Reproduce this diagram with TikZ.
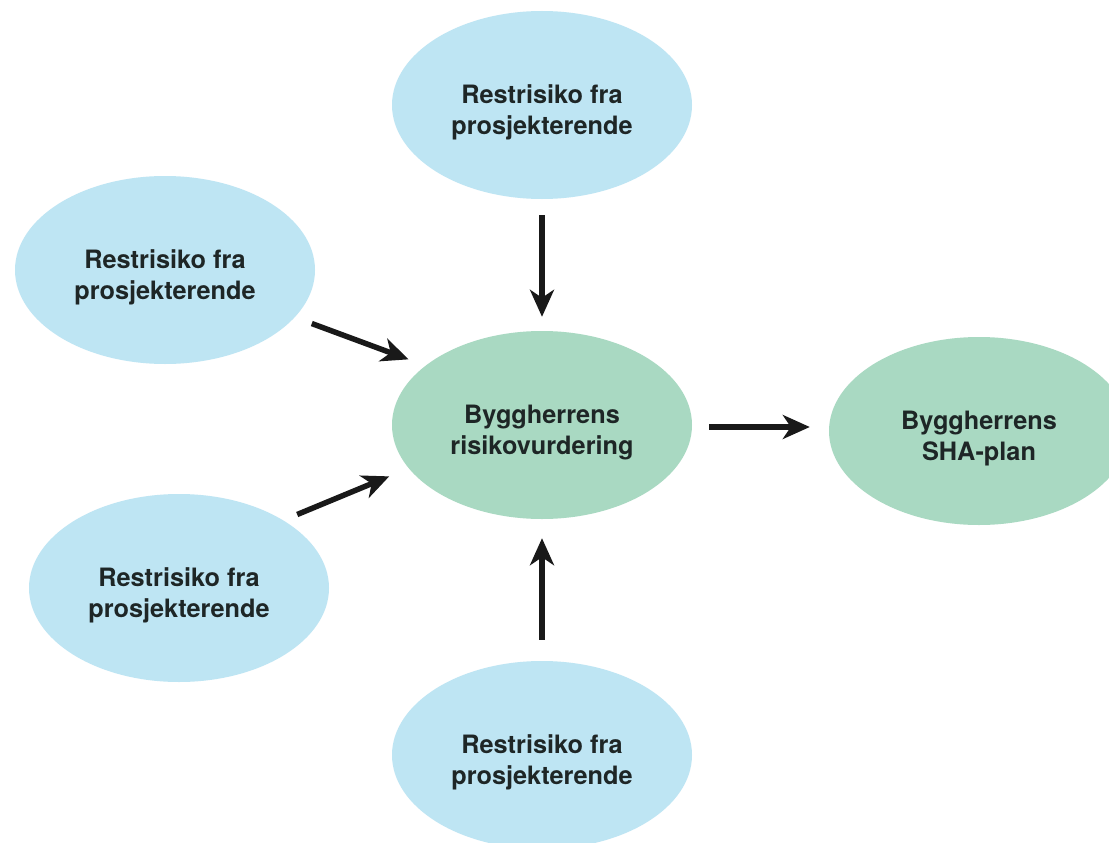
\documentclass[tikz,border=0pt]{standalone}
\usepackage{fontspec}
\setmainfont{TeX Gyre Heros}
\usetikzlibrary{shapes.geometric,arrows.meta}
\definecolor{riskblue}{HTML}{BEE5F3}
\definecolor{planngreen}{HTML}{A9D9C2}
\definecolor{txtdark}{HTML}{1E2626}
\newcommand\twolines[2]{\raisebox{-8pt}[\height][\depth]{\setlength\tabcolsep{0pt}\begin{tabular}{c}#1\\#2\end{tabular}}}
\tikzset{
  bubble/.style={ellipse,minimum width=300pt,minimum height=188pt,inner sep=0pt,
    align=center,text=txtdark,font=\bfseries\fontsize{25.3}{31}\selectfont},
  riskbubble/.style={bubble,fill=riskblue},
  planbubble/.style={bubble,fill=planngreen},
  bigarrow/.style={line width=5.5pt,draw=black!90,
    -{Stealth[length=27pt,width=24pt,inset=8pt]}}
}
\begin{document}
\begin{tikzpicture}[x=1pt,y=-1pt]
\useasboundingbox (0,0) rectangle (1109,843);
\fill[white] (0,0) rectangle (1109,843);
\node[riskbubble] (t)  at (542,105) {\twolines{Restrisiko fra}{prosjekterende}};
\node[riskbubble] (lt) at (165,270) {\twolines{Restrisiko fra}{prosjekterende}};
\node[riskbubble] (lb) at (179,588) {\twolines{Restrisiko fra}{prosjekterende}};
\node[riskbubble] (b)  at (542,755) {\twolines{Restrisiko fra}{prosjekterende}};
\node[planbubble] (c)  at (542,425) {\twolines{Byggherrens}{risikovurdering}};
\node[planbubble] (r)  at (979,431) {\twolines{Byggherrens}{SHA-plan}};
\draw[bigarrow,shorten <=16pt,shorten >=14pt] (t.south) -- (c.north);
\draw[bigarrow,shorten <=21pt,shorten >=19pt] (b.north) -- (c.south);
\draw[bigarrow,shorten <=17pt,shorten >=19pt] ([yshift=-2pt]c.east) -- ([yshift=-2pt]c.east -| r.west);
\draw[bigarrow,shorten <=18pt,shorten >=18pt] (lt.-20.6) -- (c.153.9);
\draw[bigarrow,shorten <=15pt,shorten >=21pt] (lb.33) -- (c.198.9);
\end{tikzpicture}
\end{document}
